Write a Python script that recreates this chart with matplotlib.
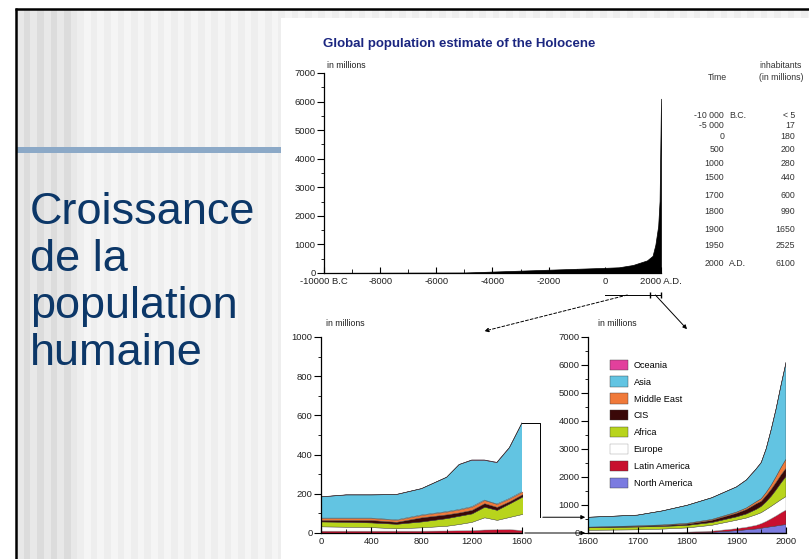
import numpy as np
import matplotlib.pyplot as plt
from matplotlib.patches import Rectangle, ConnectionPatch, FancyArrowPatch
from matplotlib.lines import Line2D
from matplotlib.ticker import MultipleLocator

W, H = 809, 559

# table of the Holocene estimate
table_years = [-10000, -5000, 0, 500, 1000, 1500, 1700, 1800, 1900, 1950, 2000]
table_year_labels = ["-10 000", "-5 000", "0", "500", "1000", "1500", "1700",
                     "1800", "1900", "1950", "2000"]
table_pop = [5, 17, 180, 200, 280, 440, 600, 990, 1650, 2525, 6100]
table_pop_labels = ["< 5", "17", "180", "200", "280", "440", "600", "990",
                    "1650", "2525", "6100"]

top_xticks = [-10000, -8000, -6000, -4000, -2000, 0, 2000]
top_xlabels = ["-10000 B.C", "-8000", "-6000", "-4000", "-2000", "0", "2000 A.D."]

# population by region, millions
years = [0, 200, 400, 600, 800, 1000, 1100, 1200, 1300, 1400, 1500, 1600,
         1650, 1700, 1750, 1800, 1850, 1900, 1920, 1940, 1950, 1960, 1970,
         1980, 1990, 2000]
north_america = [2, 2, 2, 2, 2, 2, 2, 2, 3, 3, 3, 3,
                 2, 2, 3, 7, 26, 82, 115, 145, 170, 200, 225, 250, 280, 300]
latin_america = [10, 10, 10, 10, 10, 11, 12, 13, 15, 16, 17, 12,
                 12, 12, 16, 24, 38, 74, 90, 130, 165, 215, 285, 360, 440, 520]
europe = [22, 20, 18, 12, 17, 24, 32, 42, 62, 48, 62, 82,
          90, 100, 120, 150, 210, 300, 330, 380, 390, 420, 440, 460, 470, 480]
africa = [25, 25, 24, 23, 30, 39, 42, 43, 54, 51, 69, 88,
          95, 100, 95, 90, 100, 120, 145, 190, 225, 280, 360, 470, 600, 720]
cis = [7, 9, 12, 10, 21, 19, 17, 18, 18, 15, 11, 12,
       17, 22, 30, 45, 75, 125, 155, 195, 180, 215, 240, 265, 280, 290]
middle_east = [10, 10, 10, 10, 12, 14, 15, 16, 16, 15, 14, 13,
               16, 20, 25, 30, 35, 45, 60, 80, 95, 120, 160, 210, 270, 330]
asia = [108, 118, 118, 129, 134, 175, 229, 237, 203, 211, 259, 351,
        366, 382, 499, 642, 774, 898, 997, 1169, 1287, 1555, 1970, 2410, 2930, 3430]
oceania = [1, 1, 1, 1, 1, 1, 1, 2, 2, 2, 2, 2,
           2, 2, 2, 2, 2, 6, 8, 11, 13, 16, 20, 23, 27, 30]

# bottom to top
regions = ["North America", "Latin America", "Europe", "Africa", "CIS",
           "Middle East", "Asia", "Oceania"]
region_colors = ["#7b7be0", "#c8102e", "#ffffff", "#b8d41c", "#3a0808",
                 "#f07a3a", "#62c4e2", "#e2409c"]

chart_font = ["Liberation Sans Narrow", "Liberation Sans", "DejaVu Sans"]
plt.rcParams['font.family'] = chart_font


def fx(x):
    return x / W


def fy(y):
    return 1 - y / H


def px_axes(x0, y0, x1, y1):
    return fig.add_axes([x0 / W, 1 - y1 / H, (x1 - x0) / W, (y1 - y0) / H])


def style_axes(ax):
    for s in ["top", "right"]:
        ax.spines[s].set_visible(False)
    for s in ["left", "bottom"]:
        ax.spines[s].set_linewidth(0.9)
    ax.set_facecolor("none")
    ax.tick_params(axis="y", which="major", direction="out", length=5, width=0.8,
                   labelsize=6.8, labelcolor="#222222", pad=1)
    ax.tick_params(axis="y", which="minor", direction="out", length=2.5, width=0.6)
    ax.tick_params(axis="x", which="major", direction="in", length=4, width=0.8,
                   labelsize=6.8, labelcolor="#222222", pad=3)
    ax.tick_params(axis="x", which="minor", direction="in", length=3, width=0.6)


fig = plt.figure(figsize=(W / 100, H / 100), dpi=100)

# slide background
bg = fig.add_axes([0, 0, 1, 1])
bg.set_xlim(0, W)
bg.set_ylim(H, 0)
bg.axis("off")
bg.set_zorder(-10)
bg.add_patch(Rectangle((0, 0), W, H, color="white"))
sx = 17.0
i = 0
while sx < W:
    if sx < 76:
        c = "#dcdcdc" if i % 2 else "#e8e8e8"
    else:
        c = "#eeeeee" if i % 2 else "#f5f5f5"
    bg.add_patch(Rectangle((sx, 9), 6.7, H, color=c, lw=0))
    sx += 6.7
    i += 1
bg.add_patch(Rectangle((281, 18), W - 281, H - 18, color="white", lw=0))
bg.add_patch(Rectangle((17, 147), 264, 6, color="#8ca9c7", lw=0))
bg.plot([16, 16], [8, H], color="black", lw=1.8, solid_capstyle="butt")
bg.plot([15, W], [9, 9], color="black", lw=1.8, solid_capstyle="butt")

for line, yb in zip(["Croissance", "de la", "population", "humaine"],
                    [224, 271, 318, 365]):
    bg.text(30, yb, line, fontsize=32.5, color="#0c3768", va="baseline",
            ha="left", family=["Liberation Sans", "DejaVu Sans"])

# top chart
ax_top = px_axes(324, 73, 661, 273)
style_axes(ax_top)
ax_top.fill_between(table_years, table_pop, color="black", lw=0.5)
ax_top.set_xlim(-10000, 2000)
ax_top.set_ylim(0, 7000)
ax_top.set_xticks(top_xticks)
ax_top.set_xticklabels(top_xlabels)
ax_top.xaxis.set_minor_locator(MultipleLocator(1000))
ax_top.yaxis.set_major_locator(MultipleLocator(1000))
ax_top.yaxis.set_minor_locator(MultipleLocator(500))
fig.text(fx(323), fy(44), "Global population estimate of the Holocene",
         fontsize=9.5, fontweight="bold", color="#1b2680", va="center",
         family=["Liberation Sans", "DejaVu Sans"])
fig.text(fx(327), fy(65), "in millions", fontsize=6.3, color="#222222", va="center")

# table beside the top chart
tcol = "#333333"
fig.text(fx(717), fy(77), "Time", fontsize=6.3, ha="center", va="center", color=tcol)
fig.text(fx(781), fy(66), "inhabitants", fontsize=6.3, ha="center", va="center", color=tcol)
fig.text(fx(781), fy(77), "(in millions)", fontsize=6.3, ha="center", va="center", color=tcol)
row_y = [115, 125, 137, 149, 163, 178, 195, 212, 229, 246, 263]
for lab, val, yy in zip(table_year_labels, table_pop_labels, row_y):
    fig.text(fx(724), fy(yy), lab, fontsize=6.3, ha="right", va="center", color=tcol)
    fig.text(fx(795), fy(yy), val, fontsize=6.3, ha="right", va="center", color=tcol)
fig.text(fx(729), fy(row_y[0]), "B.C.", fontsize=6.3, ha="left", va="center", color=tcol)
fig.text(fx(729), fy(row_y[-1]), "A.D.", fontsize=6.3, ha="left", va="center", color=tcol)

# lower panels
stack = [north_america, latin_america, europe, africa, cis, middle_east, asia, oceania]
axL = px_axes(321, 337, 522, 533)
axR = px_axes(588, 337, 786, 533)
polys = None
for ax in (axL, axR):
    style_axes(ax)
    p = ax.stackplot(years, *stack, colors=region_colors, labels=regions,
                     edgecolor="#3a3a3a", linewidth=0.3)
    p[2].set_edgecolor("#9a9a9a")
    polys = p
axL.set_xlim(0, 1600)
axL.set_ylim(0, 1000)
axL.set_xticks([0, 400, 800, 1200, 1600])
axL.xaxis.set_minor_locator(MultipleLocator(200))
axL.yaxis.set_major_locator(MultipleLocator(200))
axL.yaxis.set_minor_locator(MultipleLocator(100))
axR.set_xlim(1600, 2000)
axR.set_ylim(0, 7000)
axR.set_xticks([1600, 1700, 1800, 1900, 2000])
axR.xaxis.set_minor_locator(MultipleLocator(50))
axR.yaxis.set_major_locator(MultipleLocator(1000))
axR.yaxis.set_minor_locator(MultipleLocator(500))
fig.text(fx(326), fy(324), "in millions", fontsize=6.3, color="#222222", va="center")
fig.text(fx(598), fy(324), "in millions", fontsize=6.3, color="#222222", va="center")

axR.legend(polys[::-1], regions[::-1], loc="upper left", bbox_to_anchor=(0.11, 0.885),
           frameon=False, fontsize=6.6, handlelength=2.0, handleheight=1.35,
           labelspacing=0.72, handletextpad=0.6, borderaxespad=0, borderpad=0)

# zoom connectors
xa_top = ax_top.get_xaxis_transform()
ax_top.plot([0, 2000], [-0.11, -0.11], color="black", lw=0.7, transform=xa_top,
            clip_on=False)
ax_top.plot([1600, 2000], [-0.11, -0.11], color="black", lw=0, marker="|", ms=4,
            transform=xa_top, clip_on=False)
fig.add_artist(ConnectionPatch(xyA=(800, -0.11), coordsA=xa_top,
                               xyB=(1300, 1.03), coordsB=axL.get_xaxis_transform(),
                               arrowstyle="-|>", linestyle=(0, (3, 2)), lw=0.7,
                               color="black", mutation_scale=6))
fig.add_artist(ConnectionPatch(xyA=(1800, -0.11), coordsA=xa_top,
                               xyB=(1800, 1.04), coordsB=axR.get_xaxis_transform(),
                               arrowstyle="-|>", lw=0.7, color="black",
                               mutation_scale=6))

to_fig = fig.transFigure.inverted()
total_1600 = sum(s[years.index(1600)] for s in stack)
pa = axL.transData.transform((1600, total_1600))
pb = axR.transData.transform((1600, total_1600))
xm = pa[0] + 18
path_px = np.array([pa, (xm, pa[1]), (xm, pb[1])])
path_fig = to_fig.transform(path_px)
fig.add_artist(Line2D(path_fig[:, 0], path_fig[:, 1], color="black", lw=0.7))
fig.add_artist(FancyArrowPatch(tuple(path_fig[-1]), tuple(to_fig.transform(pb)),
                               arrowstyle="-|>", mutation_scale=6, lw=0.7,
                               color="black", transform=fig.transFigure))
b0 = to_fig.transform(axL.transData.transform((1600, 0)))
b1 = to_fig.transform(axR.transData.transform((1600, 0)))
fig.add_artist(FancyArrowPatch(tuple(b0), tuple(b1), arrowstyle="-|>",
                               mutation_scale=6, lw=0.7, color="black",
                               transform=fig.transFigure))

fig.savefig("out.png", dpi=100)
